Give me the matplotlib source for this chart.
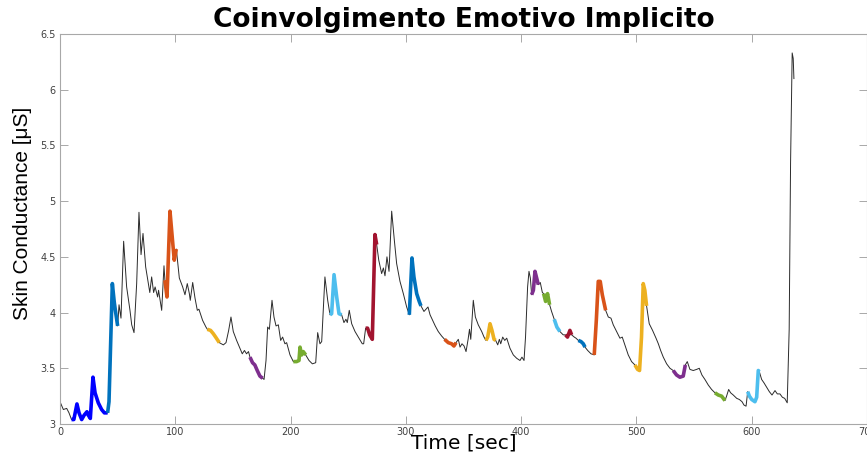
import numpy as np
import matplotlib.pyplot as plt

# segnale di conduttanza cutanea
time_s = [0, 2.9, 5.8, 7.8, 10, 12, 14.7, 16.5, 18.8, 21, 23.4, 24.5, 26.3, 28.6, 30.4, 33.2,
          36.1, 38.5, 41.3, 42.5, 45.4, 47.1, 48.3, 50.0, 51.2, 52.9, 55.2, 57.8, 60.7, 62.2,
          64.2, 66.5, 68.5, 70.3, 72.0, 74.3, 76.6, 77.9, 79.5, 81.2, 82.5, 84.7, 85.5, 88.2,
          90.2, 91.0, 92.8, 95.4, 96.9, 99.1, 100.9, 103.5, 106.4, 108.4, 110.4, 112.2, 113.0,
          115.1, 117.1, 119.1, 120.5, 123.7, 126.6, 127.8, 130.6, 133.0, 135.0, 138.2, 141.7,
          144.0, 146.3, 148.3, 150.3, 153.2, 156.1, 158.1, 160.0, 161.8, 163.5, 164.8, 167.0,
          169.0, 171.1, 173.4, 175.8, 177.0, 178.7, 180.1, 181.6, 183.9, 185.6, 187.4, 189.4,
          191.4, 193.1, 195.1, 196.6, 199.5, 202.4, 205.2, 207.3, 208.2, 209.6, 211.0, 213.1,
          216.0, 218.9, 221.8, 223.5, 225.5, 227.0, 229.8, 232.2, 234.2, 235.6, 237.7, 240.0,
          242.0, 244.3, 246.3, 248.0, 249.2, 250.9, 253.0, 255.9, 259.3, 262.2, 263.4, 265.1,
          266.8, 268.6, 270.9, 273.2, 274.7, 276.5, 279.0, 280.5, 281.9, 283.6, 285.4, 287.7,
          290.0, 292.0, 294.9, 297.8, 300.7, 303.0, 305.3, 307.0, 309.4, 311.6, 313.1, 315.7,
          317.5, 319.2, 321.0, 323.2, 325.5, 328.1, 331.0, 333.6, 336.8, 339.7, 341.7, 343.5,
          345.5, 347.0, 348.7, 350.5, 352.2, 354.0, 355.2, 356.3, 358.5, 360.3, 362.8, 365.8,
          367.8, 369.5, 371.0, 373.0, 374.7, 376.5, 377.9, 379.7, 381.1, 382.3, 384.0, 385.8,
          387.5, 390.3, 393.2, 396.1, 399.0, 400.7, 402.5, 403.8, 405.6, 406.8, 408.0, 409.1,
          410.6, 412.0, 413.7, 414.9, 416.6, 418.4, 419.5, 421.2, 422.9, 424.7, 426.4, 428.7,
          431.0, 433.6, 436.5, 438.5, 440.2, 442.3, 443.8, 446.1, 447.6, 449.6, 451.9, 453.9,
          455.4, 457.7, 460.6, 463.4, 465.2, 466.9, 468.6, 470.4, 473.3, 475.6, 477.9, 479.9,
          482.8, 485.7, 487.7, 490.0, 492.9, 495.8, 498.7, 501.0, 502.7, 504.4, 505.9, 507.3,
          508.8, 511.1, 514.0, 517.0, 519.0, 521.0, 523.3, 526.2, 529.1, 531.9, 534.8, 537.7,
          540.6, 542.4, 544.1, 546.4, 549.3, 552.2, 554.5, 556.8, 559.4, 562.3, 565.2, 568.1,
          571.0, 573.9, 576.8, 578.2, 580.0, 581.7, 584.0, 587.0, 589.3, 591.6, 593.3, 595.1,
          596.5, 598.0, 600.0, 602.8, 604.3, 605.7, 606.6, 608.6, 610.6, 613.0, 615.3, 617.6,
          620.2, 622.2, 624.5, 626.6, 628.6, 630.8, 632.5, 633.7, 635.1, 636.0, 636.6]
sc = [3.20, 3.13, 3.14, 3.10, 3.04, 3.04, 3.18, 3.10, 3.04, 3.08, 3.11, 3.08, 3.05, 3.42, 3.28, 3.19,
      3.13, 3.10, 3.10, 3.20, 4.26, 4.09, 4.00, 3.88, 4.07, 3.95, 4.64, 4.23, 4.02, 3.89,
      3.82, 4.26, 4.90, 4.52, 4.71, 4.41, 4.26, 4.18, 4.32, 4.18, 4.23, 4.14, 4.20, 4.02,
      4.42, 4.29, 4.14, 4.91, 4.73, 4.47, 4.57, 4.31, 4.23, 4.16, 4.26, 4.17, 4.11,
      4.27, 4.13, 4.02, 4.03, 3.93, 3.87, 3.85, 3.84, 3.81, 3.78, 3.73, 3.71,
      3.73, 3.84, 3.96, 3.83, 3.75, 3.68, 3.63, 3.66, 3.63, 3.65, 3.60, 3.55,
      3.53, 3.48, 3.43, 3.41, 3.40, 3.57, 3.87, 3.85, 4.11, 3.96, 3.88, 3.89,
      3.75, 3.78, 3.72, 3.73, 3.62, 3.56, 3.56, 3.57, 3.69, 3.62, 3.65, 3.62,
      3.57, 3.54, 3.55, 3.82, 3.72, 3.74, 4.32, 4.11, 3.98, 3.99, 4.34, 4.14,
      3.99, 3.98, 3.91, 3.94, 3.91, 4.02, 3.90, 3.83, 3.77, 3.72, 3.72, 3.86,
      3.86, 3.80, 3.76, 4.70, 4.61, 4.47, 4.35, 4.40, 4.33, 4.50, 4.37, 4.91,
      4.65, 4.44, 4.28, 4.17, 4.05, 3.98, 4.49, 4.32, 4.17, 4.10, 4.06, 4.01,
      4.03, 4.05, 3.98, 3.93, 3.88, 3.83, 3.79, 3.76, 3.73, 3.72, 3.70, 3.73,
      3.76, 3.69, 3.72, 3.70, 3.65, 3.76, 3.85, 3.76, 4.11, 3.96, 3.89, 3.83,
      3.78, 3.75, 3.78, 3.90, 3.84, 3.76, 3.75, 3.71, 3.76, 3.72, 3.78, 3.75,
      3.77, 3.68, 3.62, 3.59, 3.57, 3.60, 3.57, 3.78, 4.23, 4.37, 4.31, 4.16,
      4.20, 4.37, 4.30, 4.25, 4.27, 4.18, 4.17, 4.10, 4.17, 4.07, 4.01, 3.94,
      3.87, 3.83, 3.80, 3.80, 3.78, 3.84, 3.80, 3.78, 3.77, 3.75, 3.74, 3.72,
      3.69, 3.66, 3.63, 3.62, 3.93, 4.28, 4.28, 4.16, 4.02, 3.96, 3.95, 3.89,
      3.83, 3.77, 3.78, 3.71, 3.62, 3.56, 3.53, 3.49, 3.48, 3.78, 4.26, 4.20,
      4.06, 3.90, 3.84, 3.77, 3.72, 3.66, 3.60, 3.54, 3.50, 3.48, 3.44, 3.42,
      3.43, 3.53, 3.56, 3.49, 3.48, 3.49, 3.50, 3.44, 3.40, 3.35, 3.31, 3.28,
      3.26, 3.25, 3.21, 3.25, 3.31, 3.28, 3.26, 3.23, 3.22, 3.20, 3.17, 3.16,
      3.29, 3.25, 3.22, 3.20, 3.24, 3.48, 3.47, 3.40, 3.37, 3.33, 3.29, 3.26,
      3.30, 3.27, 3.27, 3.24, 3.23, 3.19, 3.85, 5.34, 6.33, 6.28, 6.10]

# intervalli evidenziati (inizio, fine) in secondi
seg_start = [10, 41.3, 91.0, 127.8, 164.8, 202.4, 234.2, 265.1, 303.0, 333.6, 369.5,
             409.1, 419.5, 428.7, 438.5, 449.6, 463.4, 498.7, 531.9, 568.1, 596.5]
seg_end = [41.3, 50.0, 100.9, 138.2, 175.8, 213.1, 244.3, 274.7, 313.1, 343.5, 377.9,
           414.9, 424.7, 433.6, 443.8, 455.4, 473.3, 508.8, 542.4, 576.8, 606.6]
seg_colors = ['#0000FF', '#0072BD', '#D95319', '#EDB120', '#7E2F8E', '#77AC30', '#4DBEEE',
              '#A2142F', '#0072BD', '#D95319', '#EDB120', '#7E2F8E', '#77AC30', '#4DBEEE',
              '#A2142F', '#0072BD', '#D95319', '#EDB120', '#7E2F8E', '#77AC30', '#4DBEEE']

t = np.array(time_s)
y = np.array(sc)

fig = plt.figure(figsize=(8.67, 4.54), dpi=100)
ax = fig.add_axes([60 / 867, 30 / 454, 807 / 867, 390 / 454])

ax.plot(t, y, color='#2b2b2b', lw=0.7, zorder=2)
for s, e, c in zip(seg_start, seg_end, seg_colors):
    m = (t >= s) & (t <= e)
    ax.plot(t[m], y[m], color=c, lw=2.6, solid_capstyle='butt', zorder=3)

ax.set_xlim(0, 700)
ax.set_ylim(3, 6.5)
ax.set_xticks(np.arange(0, 701, 100))
ax.set_yticks([3, 3.5, 4, 4.5, 5, 5.5, 6, 6.5])
ax.set_yticklabels(['3', '3.5', '4', '4.5', '5', '5.5', '6', '6.5'])

for sp in ax.spines.values():
    sp.set_color('#a8a8a8')
    sp.set_linewidth(0.8)
ax.tick_params(direction='in', length=6, width=0.7, color='#a8a8a8',
               top=True, right=True, labelsize=7, labelcolor='#404040')
ax.tick_params(axis='x', pad=2)
ax.tick_params(axis='y', pad=3)

ax.set_title('Coinvolgimento Emotivo Implicito', fontsize=19, fontweight='bold',
             family='DejaVu Sans', pad=5)
ax.set_xlabel('Time [sec]', fontsize=14.5, va='center')
ax.xaxis.set_label_coords(0.5, -0.048)
ax.set_ylabel('Skin Conductance [μS]', fontsize=15,
              family=['Liberation Sans', 'DejaVu Sans'], va='center')
ax.yaxis.set_label_coords(-0.047, 0.54)

fig.savefig('out.png', dpi=100, facecolor='white')
plt.close()
